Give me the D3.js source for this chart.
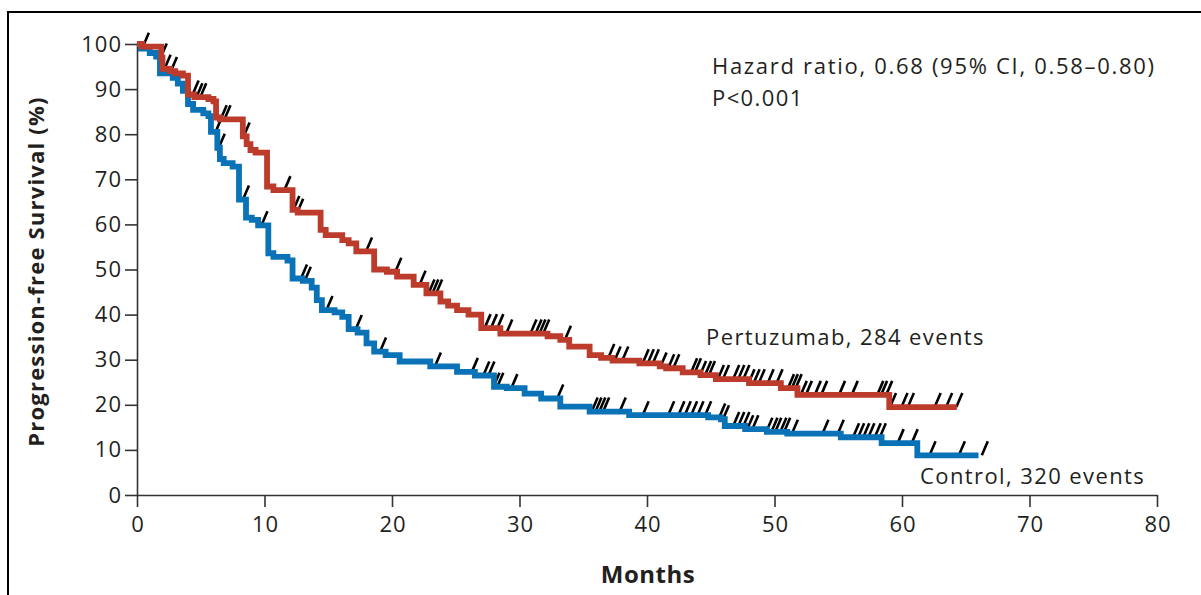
<!DOCTYPE html>
<html>
<head>
<meta charset="utf-8">
<script src="https://cdn.jsdelivr.net/npm/d3@7"></script>
<style>
  html, body { margin: 0; padding: 0; background: #fff; }
  svg { display: block; }
  text { font-family: "Open Sans", "DejaVu Sans", sans-serif; fill: #231f20; }
</style>
</head>
<body>
<svg id="chart" width="1201" height="595"></svg>
<script>
// Kaplan–Meier progression-free survival, pertuzumab vs control.
// Each arm: step times (months) with the survival (%) reached at that time,
// the last follow-up time, and the censoring times.
const pertTimes = [0, 0.4, 1.9, 2.0, 2.6, 3.0, 3.6, 4.0, 4.5, 5.6, 6.0, 6.2, 6.5, 8.3, 8.6, 8.9, 9.3, 10.2, 10.7,
  12.2, 12.6, 14.4, 14.8, 16.1, 16.6, 17.2, 18.6, 19.6, 20.4, 21.7, 22.7, 23.8, 24.4, 25.1, 26.0, 27.0, 28.5,
  32.2, 33.2, 33.9, 35.5, 36.4, 37.3, 39.4, 41.0, 41.5, 42.8, 44.2, 45.4, 48.0, 50.5, 51.8, 59.0];
const pertSurv = [100, 99.4, 97, 94.5, 94, 93.5, 93, 88.8, 88.2, 87.8, 87.3, 83.7, 83.3, 79.5, 77.8, 76.5, 75.9, 68.4, 67.6,
  63.2, 62.6, 58.8, 57.6, 56.5, 55.8, 54.0, 50.0, 49.5, 48.4, 46.6, 44.7, 42.9, 42.0, 41.0, 40.0, 37.0, 35.8,
  35.2, 34.4, 32.9, 31.0, 30.4, 29.8, 29.2, 28.5, 28.1, 27.2, 26.6, 25.7, 24.8, 23.7, 22.2, 19.5];
const pertEnd = 64.3;
const pertCensor = [0.5, 1.9, 2.2, 2.7, 4.4, 4.7, 5.0, 6.6, 6.9, 8.4, 11.6, 12.3, 12.6, 18.0, 20.3, 22.2, 22.9, 23.2, 23.5,
  27.3, 27.8, 28.3, 29.0, 30.9, 31.3, 31.6, 31.9, 33.6, 37.0, 37.5, 38.1, 39.7, 40.1, 40.5, 41.1, 41.7, 42.1,
  43.5, 43.8, 44.2, 44.6, 44.9, 45.6, 46.0, 46.8, 47.2, 47.6, 48.0, 48.4, 48.8, 49.5, 50.2, 51.1, 51.4, 51.7, 52.1,
  52.5, 53.2, 53.7, 55.1, 56.1, 58.1, 58.4, 58.8, 59.1, 60.0, 60.5, 62.6, 63.5, 64.3];

const ctrlTimes = [0, 0.3, 1.0, 1.5, 1.8, 2.8, 3.2, 3.6, 4.0, 4.4, 5.2, 5.6, 5.8, 6.3, 6.5, 6.8, 7.5, 8.0, 8.55, 9.0, 9.5,
  10.3, 10.7, 11.8, 12.2, 13.0, 13.7, 14.1, 14.5, 15.5, 16.1, 16.6, 17.3, 18.0, 18.6, 19.5, 20.6, 23.0, 25.1, 26.5,
  28.0, 29.0, 30.4, 31.7, 33.2, 35.5, 38.6, 44.8, 45.8, 46.1, 47.7, 49.4, 51.0, 55.2, 58.4, 61.2];
const ctrlSurv = [100, 99, 98, 97.2, 93.5, 92.5, 91.2, 89.6, 86.7, 85.4, 84.6, 84.0, 80.5, 77, 74.5, 73.6, 72.8, 65.5, 61.5, 61.0, 59.8,
  53.6, 52.8, 52.0, 48.0, 47.5, 46.0, 43.2, 41.0, 40.5, 39.5, 36.8, 36.0, 33.6, 31.8, 31.0, 29.6, 28.5, 27.3, 26.5,
  24.0, 23.7, 22.5, 21.4, 19.6, 18.5, 17.7, 17.2, 16.8, 15.3, 14.6, 14.0, 13.6, 12.8, 11.5, 8.8];
const ctrlEnd = 66.0;
const ctrlCensor = [6.2, 6.45, 8.35, 9.8, 12.9, 13.2, 14.9, 17.2, 19.1, 23.4, 26.3, 27.2, 27.6, 28.0, 28.3, 29.4, 33.0,
  35.7, 36.0, 36.3, 36.6, 37.9, 39.7, 41.7, 42.5, 43.0, 43.5, 44.0, 44.6, 45.7, 46.0, 46.8, 47.2, 47.6, 47.9, 48.3,
  49.4, 49.8, 50.1, 50.5, 50.8, 51.4, 53.8, 55.0, 56.2, 56.6, 57.0, 57.4, 57.9, 58.3, 59.7, 60.8, 62.2, 64.5, 66.3];

const xTicks = [0, 10, 20, 30, 40, 50, 60, 70, 80];
const yTicks = [0, 10, 20, 30, 40, 50, 60, 70, 80, 90, 100];

const arms = [
  { name: "Pertuzumab", times: pertTimes, surv: pertSurv, end: pertEnd, censor: pertCensor, color: "#bc3b2b" },
  { name: "Control", times: ctrlTimes, surv: ctrlSurv, end: ctrlEnd, censor: ctrlCensor, color: "#0a72b6" }
];

const svg = d3.select("#chart");

// page frame (left and top rules)
svg.append("line").attr("x1", 8).attr("y1", 12).attr("x2", 1201).attr("y2", 12)
  .attr("stroke", "#000").attr("stroke-width", 2);
svg.append("line").attr("x1", 8).attr("y1", 11).attr("x2", 8).attr("y2", 595)
  .attr("stroke", "#000").attr("stroke-width", 2);

const x = d3.scaleLinear().domain([0, 80]).range([137, 1157]);
const y = d3.scaleLinear().domain([0, 100]).range([495, 44]);

// axes
const xAxis = svg.append("g").attr("transform", `translate(0,${y(0)})`)
  .call(d3.axisBottom(x).tickValues(xTicks).tickSize(12).tickPadding(9).tickSizeOuter(0));
const yAxis = svg.append("g").attr("transform", `translate(${x(0)},0)`)
  .call(d3.axisLeft(y).tickValues(yTicks).tickSize(12).tickPadding(3).tickSizeOuter(0));
[xAxis, yAxis].forEach(g => {
  g.select(".domain").attr("stroke", "#333").attr("stroke-width", 1.6);
  g.selectAll(".tick line").attr("stroke", "#333").attr("stroke-width", 1.6);
  g.selectAll(".tick text").attr("fill", "#231f20")
    .style("font-family", '"Open Sans", sans-serif').style("font-size", "22px")
    .style("letter-spacing", "1px");
});
xAxis.selectAll(".tick text").attr("dx", "0.5px");

// survival step at time t
function survAt(arm, t) {
  const i = d3.bisectRight(arm.times, t) - 1;
  return arm.surv[Math.max(0, i)];
}

const line = d3.line().x(d => x(d[0])).y(d => y(d[1])).curve(d3.curveStepAfter);

// censor marks sit under the curves
arms.forEach(arm => {
  svg.append("g").selectAll("line").data(arm.censor).join("line")
    .attr("x1", t => x(t) - 0.5)
    .attr("y1", t => y(survAt(arm, t)))
    .attr("x2", t => x(t) + 5.5)
    .attr("y2", t => y(survAt(arm, t)) - 14)
    .attr("stroke", "#000").attr("stroke-width", 2.6);
});

arms.slice().reverse().forEach(arm => {
  const pts = arm.times.map((t, i) => [t, arm.surv[i]]);
  pts.push([arm.end, arm.surv[arm.surv.length - 1]]);
  svg.append("path").datum(pts)
    .attr("d", line)
    .attr("fill", "none")
    .attr("stroke", arm.color)
    .attr("stroke-width", 5.8)
    .attr("stroke-linejoin", "miter");
});

// titles and annotations
svg.append("text").attr("transform", `translate(44,${(y(0) + y(100)) / 2 + 2}) rotate(-90)`)
  .attr("text-anchor", "middle").style("font-weight", "bold").style("font-size", "22px")
  .style("letter-spacing", "1.2px")
  .text("Progression-free Survival (%)");
svg.append("text").attr("x", 648).attr("y", 583).attr("text-anchor", "middle")
  .style("font-weight", "bold").style("font-size", "24px").style("letter-spacing", "0.5px").text("Months");

const note = (tx, ty, s, ls) => svg.append("text").attr("x", tx).attr("y", ty)
  .style("font-size", "22px").style("letter-spacing", ls + "px").text(s);
note(712, 74, "Hazard ratio, 0.68 (95% CI, 0.58\u20130.80)", 1.7);
note(712, 106, "P<0.001", 1.4);
note(706, 345, "Pertuzumab, 284 events", 1.4);
note(920, 484, "Control, 320 events", 1.4);
</script>
</body>
</html>
